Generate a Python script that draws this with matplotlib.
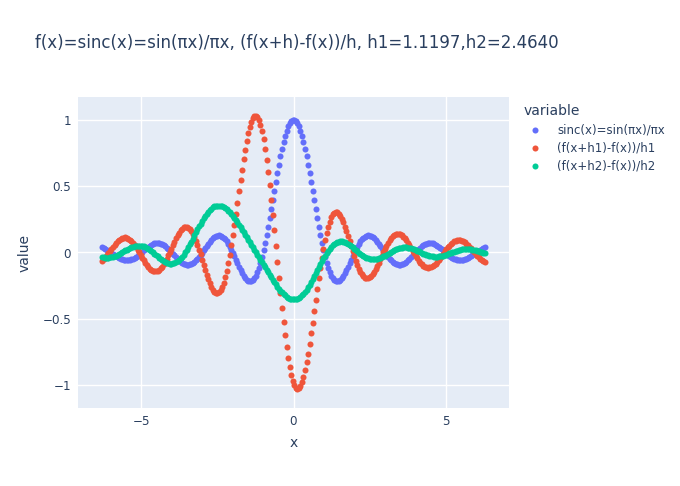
import numpy as np
import matplotlib
matplotlib.use("Agg")
import matplotlib.pyplot as plt

h1 = 1.1197
h2 = 2.4640
x = np.linspace(-2 * np.pi, 2 * np.pi, 250)
sinc_vals = np.sinc(x)
dq1 = (np.sinc(x + h1) - np.sinc(x)) / h1
dq2 = (np.sinc(x + h2) - np.sinc(x)) / h2

series_names = ["sinc(x)=sin(πx)/πx", "(f(x+h1)-f(x))/h1", "(f(x+h2)-f(x))/h2"]
series_vals = [sinc_vals, dq1, dq2]
colors = ["#636efa", "#EF553B", "#00cc96"]
xticks = [-5, 0, 5]
yticks = [-1, -0.5, 0, 0.5, 1]
ytick_labels = ["−1", "−0.5", "0", "0.5", "1"]

FC = "#2a3f5f"
plt.rcParams["font.family"] = ["DejaVu Sans"]

fig = plt.figure(figsize=(6.8, 4.86), dpi=100)
ax = fig.add_axes([78 / 680, 1 - 408 / 486, (509 - 78) / 680, (408 - 97) / 486])
ax.set_facecolor("#E5ECF6")
for name, vals, c in zip(series_names, series_vals, colors):
    ax.scatter(x, vals, s=19, color=c, label=name, linewidths=0, zorder=3)

ax.set_xlim(-7.08, 7.08)
ax.set_ylim(-1.171, 1.171)
ax.set_xticks(xticks)
ax.set_yticks(yticks)
ax.set_yticklabels(ytick_labels)
ax.grid(True, color="white", linewidth=1)
ax.set_axisbelow(True)
for sp in ax.spines.values():
    sp.set_visible(False)
ax.tick_params(axis="x", length=0, labelsize=8.6, colors=FC, pad=5)
ax.tick_params(axis="y", length=0, labelsize=8.6, colors=FC, pad=5)
ax.set_xlabel("x", fontsize=10, color=FC, labelpad=6)
ax.set_ylabel("value", fontsize=10, color=FC, labelpad=8)

fig.text(35 / 680, 1 - 43 / 486, "f(x)=sinc(x)=sin(πx)/πx, (f(x+h)-f(x))/h, h1=1.1197,h2=2.4640",
         fontsize=11.95, color=FC, va="center", ha="left")

leg = fig.legend(loc="upper left", bbox_to_anchor=(515 / 680, 1 - 96 / 486), frameon=False,
                 title="variable", fontsize=8.45, title_fontsize=10, markerscale=1.0,
                 handletextpad=0.9, labelspacing=0.42, borderpad=0.2)
leg._legend_box.align = "left"
for t in leg.get_texts():
    t.set_color(FC)
leg.get_title().set_color(FC)

fig.savefig("out.png", dpi=100)
